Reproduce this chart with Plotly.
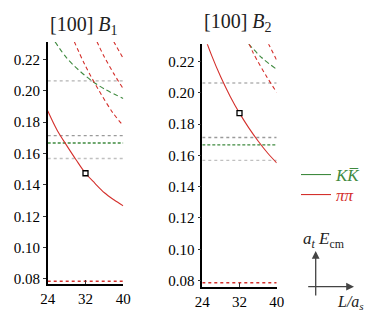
import plotly.graph_objects as go

# ---------------- data ----------------
L_grid = [24, 26, 28, 30, 32, 34, 36, 38, 40]

b1_pipi = [0.1872, 0.1748, 0.1652, 0.1560, 0.1474, 0.1410, 0.1350, 0.1305, 0.1266]
b1_kk_L = [25.5, 28.0, 30.5, 33.35, 36.2, 40.0]
b1_kk_E = [0.2315, 0.2210, 0.2134, 0.2063, 0.2008, 0.1951]
b1_pp1_L = [29.6, 31.9, 34.8, 37.9, 40.0]
b1_pp1_E = [0.2315, 0.2164, 0.2004, 0.1855, 0.1778]
b1_pp2_L = [34.4, 35.8, 37.95, 40.0]
b1_pp2_E = [0.2315, 0.2227, 0.2111, 0.2012]
b1_pp3_L = [37.95, 40.0]
b1_pp3_E = [0.2315, 0.2205]
b1_level_L = [32]
b1_level_E = [0.1474]

b2_pipi = [0.2400, 0.2239, 0.2099, 0.1977, 0.1870, 0.1776, 0.1692, 0.1617, 0.1552]
b2_kk_L = [33.9, 36.8, 40.0]
b2_kk_E = [0.2315, 0.2224, 0.2150]
b2_pp1_L = [34.05, 35.0, 37.85, 40.0]
b2_pp1_E = [0.2315, 0.2252, 0.2103, 0.2003]
b2_pp2_L = [38.2, 40.0]
b2_pp2_E = [0.2315, 0.2208]
b2_level_L = [32]
b2_level_E = [0.1870]

L_span = [24, 40]
thr_gray_hi = 0.2063
thr_gray_mid = 0.1714
thr_kk = 0.1667
thr_gray_lo = 0.1568
thr_pipi = 0.0786

y_ticks = [0.08, 0.10, 0.12, 0.14, 0.16, 0.18, 0.20, 0.22]
x_ticks = [24, 32, 40]

RED = "#d4302c"
GREEN = "#3f8a3f"
SERIF = "Liberation Serif"

# page body has an 8px margin: figure is drawn 8px in from the window's corner
OFF = 8
W, H = 374 - OFF, 316 - OFF


def px(x):
    return (x - OFF) / W


def py(y):
    return 1 - (y - OFF) / H


fig = go.Figure()


def add_panel(xa, ya, pipi_E, dashed_red, dashed_green, lvl_L, lvl_E):
    for val, col, dash in [
        (thr_gray_hi, "#b4b4b4", "3px,3px"),
        (thr_gray_mid, "#9a9a9a", "3px,3px"),
        (thr_kk, GREEN, "3px,2px"),
        (thr_gray_lo, "#c0c0c0", "3px,3px"),
        (thr_pipi, RED, "3px,3px"),
    ]:
        fig.add_trace(go.Scatter(x=L_span, y=[val, val], mode="lines", xaxis=xa, yaxis=ya,
                                 line=dict(color=col, width=1.4, dash=dash),
                                 showlegend=False, hoverinfo="skip"))
    for Ls, Es in dashed_green:
        fig.add_trace(go.Scatter(x=Ls, y=Es, mode="lines", xaxis=xa, yaxis=ya,
                                 line=dict(color=GREEN, width=1.1, dash="5px,3px", shape="spline"),
                                 showlegend=False))
    for Ls, Es in dashed_red:
        fig.add_trace(go.Scatter(x=Ls, y=Es, mode="lines", xaxis=xa, yaxis=ya,
                                 line=dict(color=RED, width=1.1, dash="4px,3px", shape="spline"),
                                 showlegend=False))
    fig.add_trace(go.Scatter(x=L_grid, y=pipi_E, mode="lines", xaxis=xa, yaxis=ya,
                             line=dict(color=RED, width=1.1, shape="spline"),
                             showlegend=False))
    fig.add_trace(go.Scatter(x=lvl_L, y=lvl_E, mode="markers", xaxis=xa, yaxis=ya,
                             marker=dict(symbol="square", size=5, color="white",
                                         line=dict(color="black", width=1.3)),
                             showlegend=False))


add_panel("x", "y", b1_pipi,
          [(b1_pp1_L, b1_pp1_E), (b1_pp2_L, b1_pp2_E), (b1_pp3_L, b1_pp3_E)],
          [(b1_kk_L, b1_kk_E)], b1_level_L, b1_level_E)
add_panel("x2", "y2", b2_pipi,
          [(b2_pp1_L, b2_pp1_E), (b2_pp2_L, b2_pp2_E)],
          [(b2_kk_L, b2_kk_E)], b2_level_L, b2_level_E)

# legend entries (two separate legends for tight spacing)
fig.add_trace(go.Scatter(x=[None], y=[None], mode="lines", name="<i>K</i><i>K\u0305</i>",
                         line=dict(color=GREEN, width=1.1), legend="legend"))
fig.add_trace(go.Scatter(x=[None], y=[None], mode="lines", name="<i>ππ</i>",
                         line=dict(color=RED, width=1.1), legend="legend2"))


def xaxis(domain, anchor):
    return dict(domain=domain, range=[24, 40], tickvals=x_ticks, ticks="inside", ticklen=4,
                tickcolor="#333", showline=True, linecolor="black", linewidth=1.5,
                showgrid=False, zeroline=False, automargin=False, anchor=anchor,
                tickfont=dict(family=SERIF, size=15, color="black"))


def yaxis(domain, rng, anchor):
    return dict(domain=domain, range=rng, tickvals=y_ticks, tickformat=".2f", ticks="outside",
                ticklen=3, tickcolor="#333", showline=True, linecolor="black", linewidth=1.5,
                showgrid=False, zeroline=False, anchor=anchor, automargin=False,
                tickfont=dict(family=SERIF, size=15, color="black"))


leg_common = dict(xanchor="left", yanchor="middle", itemwidth=30,
                  bgcolor="rgba(0,0,0,0)", borderwidth=0)

fig.update_layout(
    width=W, height=H, margin=dict(l=0, r=0, t=0, b=0),
    paper_bgcolor="white", plot_bgcolor="white",
    font=dict(family=SERIF, color="black"),
    xaxis=xaxis([px(47.7), px(123.3)], "y"),
    yaxis=yaxis([py(284), py(42)], [0.0768, 0.2311], "x"),
    xaxis2=xaxis([px(202.3), px(276.7)], "y2"),
    yaxis2=yaxis([py(287), py(44.3)], [0.0759, 0.2310], "x2"),
    legend=dict(leg_common, x=px(296), y=py(175),
                font=dict(family=SERIF, size=17, color=GREEN)),
    legend2=dict(leg_common, x=px(296), y=py(195),
                 font=dict(family=SERIF, size=17, color=RED)),
    showlegend=True,
)

annotations = [
    dict(text="[100] <i>B</i><sub>1</sub>", x=px(84), y=py(25), xref="paper", yref="paper",
         xanchor="center", yanchor="middle",
         showarrow=False, font=dict(family=SERIF, size=20, color="#222")),
    dict(text="[100] <i>B</i><sub>2</sub>", x=px(238), y=py(23), xref="paper", yref="paper",
         xanchor="center", yanchor="middle",
         showarrow=False, font=dict(family=SERIF, size=20, color="#222")),
    dict(text="<i>a<sub>t</sub> E</i><sub>cm</sub>", x=px(324), y=py(240), xref="paper",
         yref="paper", xanchor="center", yanchor="middle",
         showarrow=False, font=dict(family=SERIF, size=17, color="#222")),
    dict(text="<i>L/a<sub>s</sub></i>", x=px(350), y=py(302), xref="paper", yref="paper",
         xanchor="center", yanchor="middle",
         showarrow=False, font=dict(family=SERIF, size=16, color="#222")),
    # axis-orientation arrows
    dict(x=px(315.7), y=py(251), ax=0, ay=46, xref="paper", yref="paper",
         axref="pixel", ayref="pixel", showarrow=True, arrowhead=2, arrowsize=1.2, arrowwidth=1.3,
         standoff=0, startstandoff=0, arrowcolor="#444", text=""),
    dict(x=px(354), y=py(286.7), ax=-47.3, ay=0, xref="paper", yref="paper",
         axref="pixel", ayref="pixel", showarrow=True, arrowhead=2, arrowsize=1.2, arrowwidth=1.3,
         standoff=0, startstandoff=0, arrowcolor="#444", text=""),
]
fig.update_layout(annotations=annotations)

fig.write_html("out.html")
